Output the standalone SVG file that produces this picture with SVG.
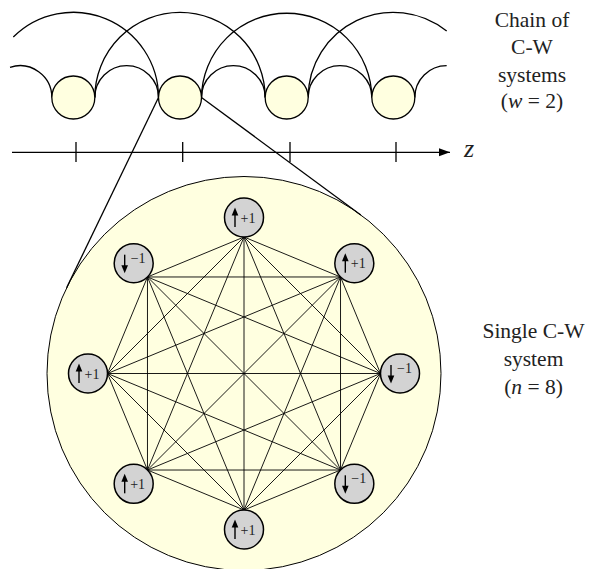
<svg xmlns="http://www.w3.org/2000/svg" width="592" height="569" viewBox="0 0 592 569">
<style>
.arc{fill:none;stroke:#000;stroke-width:1.3}
.cw{fill:#ffffe0;stroke:#000;stroke-width:1.3}
.big{fill:#ffffe0;stroke:#000;stroke-width:1}
.zl{stroke:#000;stroke-width:1.3;fill:none}
.edge{stroke:#000;stroke-width:0.9;fill:none}
.spin{fill:#d3d3d3;stroke:#000;stroke-width:1.5}
.shaft{stroke:#000;stroke-width:1.4;fill:none}
.head{fill:#000;stroke:none}
.lbl{font-family:"Liberation Serif","Times New Roman",serif;font-size:14px;fill:#222}
.txt{font-family:"Liberation Serif","Times New Roman",serif;font-size:21.5px;fill:#222;text-anchor:middle}
.it{font-style:italic}
</style>
<defs>
<marker id="ah" markerWidth="12" markerHeight="10" refX="11" refY="5" orient="auto" markerUnits="userSpaceOnUse">
<path d="M0,1 L11,5 L0,9 Z" fill="#000"/>
</marker>
</defs>

<g id="chain-arcs">
<path class="arc" d="M10,67.28 A31.83,31.83 0 0 1 51.83,97.5"/>
<path class="arc" d="M94.83,97.5 A31.83,31.83 0 0 1 158.5,97.5"/>
<path class="arc" d="M201.5,97.5 A31.83,31.83 0 0 1 265.17,97.5"/>
<path class="arc" d="M308.17,97.5 A31.83,31.83 0 0 1 371.83,97.5"/>
<path class="arc" d="M414.83,97.5 A31.83,31.83 0 0 1 446.67,65.67"/>
<path class="arc" d="M13.3,37.08 A85.17,85.17 0 0 1 158.5,97.5"/>
<path class="arc" d="M94.83,97.5 A85.17,85.17 0 0 1 265.17,97.5"/>
<path class="arc" d="M201.5,97.5 A85.17,85.17 0 0 1 371.83,97.5"/>
<path class="arc" d="M308.17,97.5 A85.17,85.17 0 0 1 446.67,31.1"/>
</g>

<g id="chain-nodes">
<circle id="c1" class="cw" cx="73.33" cy="97.5" r="21.5"/>
<circle id="c2" class="cw" cx="180" cy="97.5" r="21.5"/>
<circle id="c3" class="cw" cx="286.67" cy="97.5" r="21.5"/>
<circle id="c4" class="cw" cx="393.33" cy="97.5" r="21.5"/>
</g>

<g id="axis">
<line x1="12" y1="152.3" x2="450" y2="152.3" stroke="#000" stroke-width="1.3" marker-end="url(#ah)"/>
<path d="M76,142V162M182.7,142V162M290,142V162M396,142V162" stroke="#000" stroke-width="1.3"/>
<text x="464" y="157" font-family="'Liberation Serif','Times New Roman',serif" font-style="italic" font-size="26" fill="#222">z</text>
</g>

<g id="big-system">
<circle class="big" cx="244" cy="373.5" r="197"/>
</g>

<g id="zoom-lines">
<line class="zl" x1="158.5" y1="97.5" x2="66.6" y2="287.8"/>
<line class="zl" x1="201.5" y1="97.5" x2="360.8" y2="214.9"/>
</g>

<g id="edges">
<path class="edge" d="M244,237L340.52,276.98M244,237L380.5,373.5M244,237L340.52,470.02M244,237L244,510M244,237L147.48,470.02M244,237L107.5,373.5M244,237L147.48,276.98
M340.52,276.98L380.5,373.5M340.52,276.98L340.52,470.02M340.52,276.98L244,510M340.52,276.98L147.48,470.02M340.52,276.98L107.5,373.5M340.52,276.98L147.48,276.98
M380.5,373.5L340.52,470.02M380.5,373.5L244,510M380.5,373.5L147.48,470.02M380.5,373.5L107.5,373.5M380.5,373.5L147.48,276.98
M340.52,470.02L244,510M340.52,470.02L147.48,470.02M340.52,470.02L107.5,373.5M340.52,470.02L147.48,276.98
M244,510L147.48,470.02M244,510L107.5,373.5M244,510L147.48,276.98
M147.48,470.02L107.5,373.5M147.48,470.02L147.48,276.98
M107.5,373.5L147.48,276.98"/>
</g>

<g id="s0" transform="translate(244,217.5)"><circle class="spin" r="19.5"/><path class="shaft" d="M-9,9.5V-3"/><path class="head" d="M-9,-10L-12.3,-2L-5.7,-2Z"/><text class="lbl" x="-3.5" y="5">+1</text></g>
<g id="s1" transform="translate(354.31,263.19)"><circle class="spin" r="19.5"/><path class="shaft" d="M-9,9.5V-3"/><path class="head" d="M-9,-10L-12.3,-2L-5.7,-2Z"/><text class="lbl" x="-3.5" y="5">+1</text></g>
<g id="s2" transform="translate(400,373.5)"><circle class="spin" r="19.5"/><path class="shaft" d="M-9,-8.5V3"/><path class="head" d="M-9,10L-12.3,2L-5.7,2Z"/><text class="lbl" x="-3" y="-0.5">−1</text></g>
<g id="s3" transform="translate(354.31,483.81)"><circle class="spin" r="19.5"/><path class="shaft" d="M-9,-8.5V3"/><path class="head" d="M-9,10L-12.3,2L-5.7,2Z"/><text class="lbl" x="-3" y="-0.5">−1</text></g>
<g id="s4" transform="translate(244,529.5)"><circle class="spin" r="19.5"/><path class="shaft" d="M-9,9.5V-3"/><path class="head" d="M-9,-10L-12.3,-2L-5.7,-2Z"/><text class="lbl" x="-3.5" y="5">+1</text></g>
<g id="s5" transform="translate(133.69,483.81)"><circle class="spin" r="19.5"/><path class="shaft" d="M-9,9.5V-3"/><path class="head" d="M-9,-10L-12.3,-2L-5.7,-2Z"/><text class="lbl" x="-3.5" y="5">+1</text></g>
<g id="s6" transform="translate(88,373.5)"><circle class="spin" r="19.5"/><path class="shaft" d="M-9,9.5V-3"/><path class="head" d="M-9,-10L-12.3,-2L-5.7,-2Z"/><text class="lbl" x="-3.5" y="5">+1</text></g>
<g id="s7" transform="translate(133.69,263.19)"><circle class="spin" r="19.5"/><path class="shaft" d="M-9,-8.5V3"/><path class="head" d="M-9,10L-12.3,2L-5.7,2Z"/><text class="lbl" x="-3" y="-0.5">−1</text></g>

<g id="label-chain">
<text class="txt" x="532" y="26.7">Chain of</text>
<text class="txt" x="532" y="54.2">C-W</text>
<text class="txt" x="532" y="81.5">systems</text>
<text class="txt" x="532" y="108.3">(<tspan class="it">w</tspan> = 2)</text>
</g>

<g id="label-single">
<text class="txt" x="533.5" y="338">Single C-W</text>
<text class="txt" x="533.5" y="366">system</text>
<text class="txt" x="533.5" y="394">(<tspan class="it">n</tspan> = 8)</text>
</g>
</svg>
